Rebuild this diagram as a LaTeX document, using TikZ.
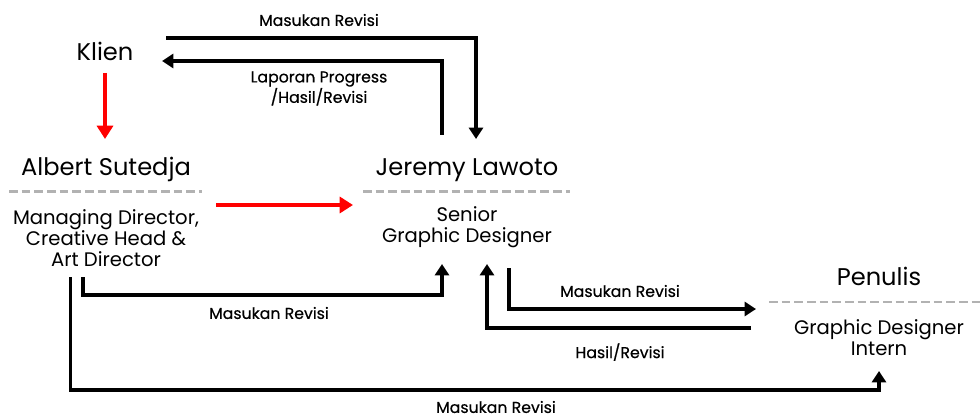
\documentclass[tikz,border=0pt]{standalone}
\usepackage{fontspec}
\setmainfont{Poppins}
\newfontfamily\medfont{Poppins}[FakeBold=0.5]
\usetikzlibrary{arrows.meta}
\begin{document}
\begin{tikzpicture}[x=0.75pt,y=-0.75pt,
  person/.style={font=\fontsize{18.1}{22}\selectfont, inner sep=0pt, anchor=base},
  role/.style={font=\fontsize{14.7}{15.9}\selectfont, align=center, inner sep=0pt, anchor=center},
  lbl/.style={font=\medfont\fontsize{11.8}{12.9}\selectfont, align=center, inner sep=0pt, anchor=center},
  sep/.style={draw=black!30, line width=1.8pt, dash pattern=on 6.5pt off 3pt},
  conn/.style={line width=2.3pt, -{Triangle[width=10.5pt,length=8.5pt]}},
  redconn/.style={draw=red, line width=3pt, -{Triangle[width=12pt,length=10pt]}}
]
\useasboundingbox (0,0) rectangle (980,417);

% people
\node[person] (klien) at (105,60.5) {Klien};
\node[person] (albert) at (106,175) {Albert Sutedja};
\node[person] (jeremy) at (467,175) {Jeremy Lawoto};
\node[person] (penulis) at (879,285.5) {Penulis};

% separators
\coordinate (s1a) at (9,191.5); \coordinate (s1b) at (202,191.5);
\coordinate (s2a) at (363,191.5); \coordinate (s2b) at (570,191.5);
\coordinate (s3a) at (769,302); \coordinate (s3b) at (980,302);
\draw[sep] (s1a) -- (s1b);
\draw[sep] (s2a) -- (s2b);
\draw[sep] (s3a) -- (s3b);

% roles
\node[role] (albertrole) at (106,238) {Managing Director,\\Creative Head \&\\Art Director};
\node[role] (jeremyrole) at (467,227) {Senior\\Graphic Designer};
\node[role] (penulisrole) at (879,338) {Graphic Designer\\Intern};

% red arrows
\coordinate (r1a) at (105,73); \coordinate (r1b) at (105,139);
\draw[redconn] (r1a) -- (r1b);
\coordinate (r2a) at (216,205); \coordinate (r2b) at (353,205);
\draw[redconn] (r2a) -- (r2b);

% top: Masukan Revisi (Klien -> Jeremy)
\coordinate (t1a) at (166,38); \coordinate (t1b) at (476,139);
\draw[conn] (t1a) -| (t1b);
\node[lbl] (l1) at (319,20) {Masukan Revisi};

% Laporan (Jeremy -> Klien)
\coordinate (t2a) at (442,135); \coordinate (t2b) at (162,61);
\draw[conn] (t2a) |- (t2b);
\node[lbl] (l2) at (319,88.5) {Laporan Progress\\/Hasil/Revisi};

% Albert -> Jeremy
\coordinate (b1a) at (83,277); \coordinate (b1c) at (442,295); \coordinate (b1b) at (442,264);
\draw[conn] (b1a) |- (b1c) -- (b1b);
\node[lbl] (l3) at (269,313) {Masukan Revisi};

% Albert -> Penulis
\coordinate (b2a) at (70.5,277); \coordinate (b2c) at (879,390); \coordinate (b2b) at (879,371);
\draw[conn] (b2a) |- (b2c) -- (b2b);
\node[lbl] (l4) at (496,407) {Masukan Revisi};

% Jeremy -> Penulis
\coordinate (b3a) at (509,268); \coordinate (b3b) at (756,309);
\draw[conn] (b3a) |- (b3b);
\node[lbl] (l5) at (620,291) {Masukan Revisi};

% Penulis -> Jeremy
\coordinate (b4a) at (751,328); \coordinate (b4b) at (487,264);
\draw[conn] (b4a) -| (b4b);
\node[lbl] (l6) at (620,352) {Hasil/Revisi};
\end{tikzpicture}
\end{document}
